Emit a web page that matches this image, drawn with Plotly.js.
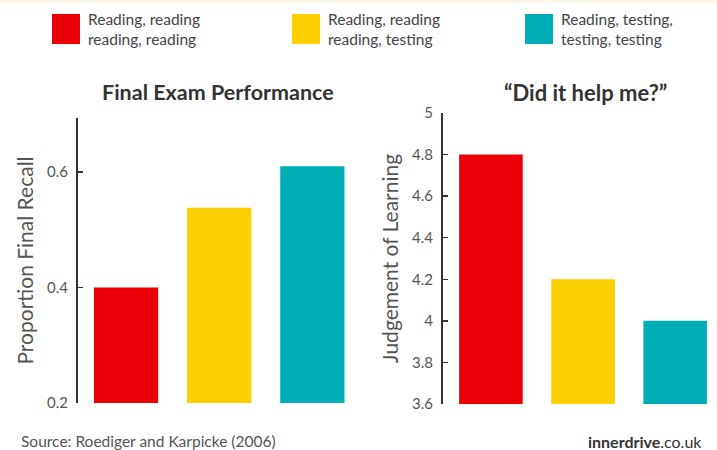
<!DOCTYPE html>
<html>
<head>
<meta charset="utf-8">
<script src="https://cdn.plot.ly/plotly-3.0.1.min.js"></script>
<style>html,body{margin:0;padding:0;background:#fff;}#chart{width:717px;height:450px;}</style>
</head>
<body>
<div id="chart"></div>
<script>
// ---- data ----
const categories = ["Reading, reading<br>reading, reading", "Reading, reading<br>reading, testing", "Reading, testing,<br>testing, testing"];
const barColors = ["#EC0008", "#FCD000", "#00AFB6"];
const recallValues = [0.40, 0.538, 0.61];
const judgementValues = [4.8, 4.2, 4.0];
const recallTicks = [0.2, 0.4, 0.6];
const judgementTicks = [3.6, 3.8, 4.0, 4.2, 4.4, 4.6, 4.8, 5.0];
const judgementTickText = ["3.6", "3.8", "4", "4.2", "4.4", "4.6", "4.8", "5"];
const chartTitles = ["Final Exam Performance", "\u201CDid it help me?\u201D"];
const axisTitles = ["Proportion Final Recall", "Judgement of Learning"];
const sourceText = "Source: Roediger and Karpicke (2006)";
const brandText = "<b>innerdrive</b>.co.uk";

const xIdx = [0, 1, 2];
const FONT = "Lato, 'Open Sans', sans-serif";

const traces = [
  {type: "bar", x: xIdx, y: recallValues, marker: {color: barColors}, xaxis: "x", yaxis: "y", hoverinfo: "y", showlegend: false},
  {type: "bar", x: xIdx, y: judgementValues, marker: {color: barColors}, xaxis: "x2", yaxis: "y2", hoverinfo: "y", showlegend: false}
];

const W = 717, H = 450;
const px = v => v / W, py = v => 1 - v / H;

const yCommon = {
  showgrid: false, zeroline: false, showline: true, linecolor: "#333", linewidth: 2,
  ticks: "inside", ticklen: 5, tickwidth: 1.5, tickcolor: "#333",
  tickfont: {family: FONT, size: 15, color: "#555"}, ticklabelstandoff: 5
};
const xCommon = {showgrid: false, zeroline: false, showline: false, showticklabels: false, ticks: ""};

const annotations = [];
// chart titles
annotations.push({xref: "paper", yref: "paper", x: px(218), y: py(92), text: "<b>" + chartTitles[0] + "</b>", showarrow: false, xanchor: "center", yanchor: "middle", font: {family: FONT, size: 21.5, color: "#333"}});
annotations.push({xref: "paper", yref: "paper", x: px(585), y: py(92), text: "<b>" + chartTitles[1] + "</b>", showarrow: false, xanchor: "center", yanchor: "middle", font: {family: FONT, size: 22, color: "#333"}});
// legend
const legendX = [52, 292, 525];
const shapes = [];
categories.forEach((c, i) => {
  shapes.push({type: "rect", xref: "paper", yref: "paper", x0: px(legendX[i]), x1: px(legendX[i] + 28), y0: py(44), y1: py(14), fillcolor: barColors[i], line: {width: 0}});
  annotations.push({xref: "paper", yref: "paper", x: px(legendX[i] + 34), y: py(29), text: c, showarrow: false, xanchor: "left", yanchor: "middle", align: "left", font: {family: FONT, size: 15.5, color: "#444"}});
});
// footer
annotations.push({xref: "paper", yref: "paper", x: px(19), y: py(441), text: sourceText, showarrow: false, xanchor: "left", yanchor: "middle", font: {family: FONT, size: 15.5, color: "#555"}});
annotations.push({xref: "paper", yref: "paper", x: px(704), y: py(441), text: brandText, showarrow: false, xanchor: "right", yanchor: "middle", font: {family: FONT, size: 16, color: "#333"}});
// top faint strip
shapes.push({type: "rect", xref: "paper", yref: "paper", x0: 0, x1: 1, y0: py(3), y1: 1, fillcolor: "#FBF6E4", line: {width: 0}});

const layout = {
  width: W, height: H, margin: {l: 0, r: 0, t: 0, b: 0},
  paper_bgcolor: "#fff", plot_bgcolor: "rgba(0,0,0,0)",
  bargap: 0.31, showlegend: false,
  font: {family: FONT},
  xaxis: Object.assign({}, xCommon, {domain: [px(78), px(358)], range: [-0.516, 2.49]}),
  xaxis2: Object.assign({}, xCommon, {domain: [px(443), px(712)], range: [-0.52, 2.40], anchor: "y2"}),
  yaxis: Object.assign({}, yCommon, {domain: [py(403), py(118)], range: [0.2, 0.6935], tickvals: recallTicks, ticktext: ["0.2", "0.4", "0.6"],
    title: {text: axisTitles[0], font: {family: FONT, size: 21, color: "#555"}, standoff: 8}}),
  yaxis2: Object.assign({}, yCommon, {domain: [py(404), py(113)], range: [3.6, 5.0], anchor: "x2", tickvals: judgementTicks, ticktext: judgementTickText,
    title: {text: axisTitles[1], font: {family: FONT, size: 21, color: "#555"}, standoff: 8}}),
  annotations: annotations, shapes: shapes
};

Plotly.newPlot("chart", traces, layout, {displayModeBar: false, staticPlot: true});
</script>
</body>
</html>
